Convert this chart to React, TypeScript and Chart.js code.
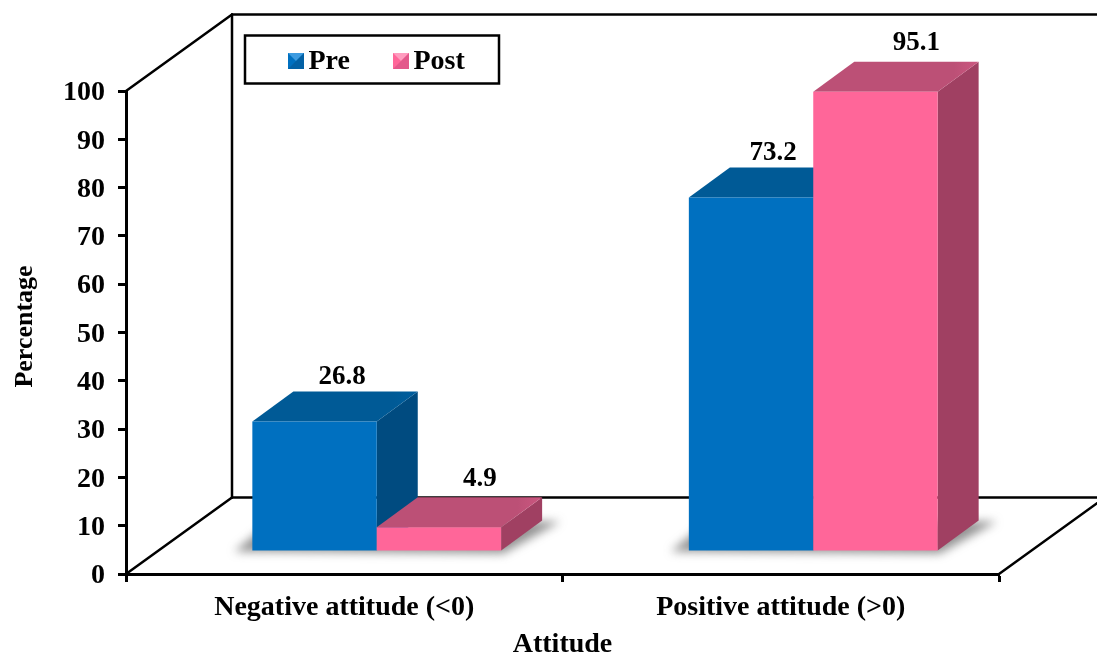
import React, { useEffect, useRef } from "react";
import { Chart, registerables } from "chart.js";

Chart.register(...registerables);

const categories = ["Negative attitude (<0)", "Positive attitude (>0)"];
const preValues = [26.8, 73.2];
const postValues = [4.9, 95.1];
const seriesNames = ["Pre", "Post"];
const yTitle = "Percentage";
const xTitle = "Attitude";

const FONT = '"Liberation Serif", "Times New Roman", serif';
const faces = [
  { front: "#0070C0", top: "#005A96", side: "#004B80", light: "#3D9BE0", dark: "#064F85" },
  { front: "#FF6699", top: "#BC5076", side: "#A04062", light: "#FF9CBF", dark: "#C2467A" },
];
const wall = { dx: 106, dy: -76.5 };
const barShift = { dx: 32.5, dy: -23 };
const barDepth = { dx: 41, dy: -30 };
const labelNudge = [
  [{ x: 27.5, y: -44.5 }, { x: 22, y: -44.5 }],
  [{ x: 41, y: -48.5 }, { x: 41, y: -49 }],
];

const scenePlugin = {
  id: "scene3d",
  beforeDatasetsDraw(chart: any) {
    const { ctx, chartArea: a, width } = chart;
    ctx.save();
    // floor shadows
    ctx.save();
    ctx.filter = "blur(5px)";
    ctx.fillStyle = "rgba(80,80,80,0.62)";
    categories.forEach((_, i) => {
      const l = chart.getDatasetMeta(0).data[i];
      const r = chart.getDatasetMeta(1).data[i];
      const x0 = l.x - l.width / 2 + barShift.dx;
      const x1 = r.x + r.width / 2 + barShift.dx;
      const yb = l.base + barShift.dy;
      ctx.beginPath();
      ctx.moveTo(x0 - 18, yb + 1);
      ctx.lineTo(x1 + 2, yb + 3);
      ctx.lineTo(x1 + barDepth.dx + 18, yb + barDepth.dy + 1);
      ctx.lineTo(x0 + 20, yb + barDepth.dy);
      ctx.closePath();
      ctx.fill();
    });
    ctx.restore();
    // walls
    ctx.strokeStyle = "#000";
    ctx.lineWidth = 2.5;
    ctx.lineCap = "round";
    const bx = a.left + wall.dx;
    const topY = a.top + wall.dy;
    const botY = a.bottom + wall.dy;
    const seg = (x1: number, y1: number, x2: number, y2: number) => {
      ctx.beginPath();
      ctx.moveTo(x1, y1);
      ctx.lineTo(x2, y2);
      ctx.stroke();
    };
    seg(a.left, a.top, bx, topY);
    seg(a.left, a.bottom, bx, botY);
    seg(bx, topY, bx, botY);
    seg(bx, topY, width + 2, topY);
    seg(bx, botY, width + 2, botY);
    seg(a.right, a.bottom, a.right + wall.dx, botY);
    ctx.restore();

    // bars: Pre first, then Post over it, each with its side and top faces
    chart.data.datasets.forEach((_: any, d: number) => {
      const meta = chart.getDatasetMeta(d);
      const f = faces[d];
      ctx.save();
      ctx.translate(barShift.dx, barShift.dy);
      meta.data.forEach((el: any) => {
        const x0 = el.x - el.width / 2;
        const x1 = el.x + el.width / 2;
        const { dx, dy } = barDepth;
        ctx.fillStyle = f.side;
        ctx.beginPath();
        ctx.moveTo(x1, el.y);
        ctx.lineTo(x1 + dx, el.y + dy);
        ctx.lineTo(x1 + dx, el.base + dy);
        ctx.lineTo(x1, el.base);
        ctx.closePath();
        ctx.fill();
        const g = ctx.createLinearGradient(x0, 0, x1 + dx, 0);
        g.addColorStop(0, f.top);
        g.addColorStop(0.85, f.top);
        g.addColorStop(1, d === 0 ? "#005E9E" : "#CC5780");
        ctx.fillStyle = g;
        ctx.beginPath();
        ctx.moveTo(x0, el.y);
        ctx.lineTo(x0 + dx, el.y + dy);
        ctx.lineTo(x1 + dx, el.y + dy);
        ctx.lineTo(x1, el.y);
        ctx.closePath();
        ctx.fill();
      });
      meta.controller.draw();
      ctx.restore();
    });
    return false;
  },
  afterDraw(chart: any) {
    const { ctx } = chart;
    ctx.save();
    ctx.fillStyle = "#000";
    ctx.font = `bold 27px ${FONT}`;
    ctx.textAlign = "center";
    ctx.textBaseline = "middle";
    // value labels
    chart.data.datasets.forEach((ds: any, d: number) => {
      chart.getDatasetMeta(d).data.forEach((el: any, i: number) => {
        const n = labelNudge[d][i];
        ctx.fillText(String(ds.data[i]), el.x + barShift.dx + n.x, el.y + barShift.dy + n.y);
      });
    });
    // y title
    ctx.save();
    ctx.font = `bold 26px ${FONT}`;
    ctx.translate(25, 326.5);
    ctx.rotate(-Math.PI / 2);
    ctx.fillText(yTitle, 0, 0);
    ctx.restore();
    // legend
    ctx.fillStyle = "#fff";
    ctx.strokeStyle = "#000";
    ctx.lineWidth = 2.5;
    ctx.fillRect(245, 35.5, 254, 48);
    ctx.strokeRect(245, 35.5, 254, 48);
    ctx.font = `bold 28px ${FONT}`;
    const swatchX = [288, 393];
    chart.data.datasets.forEach((ds: any, d: number) => {
      const f = faces[d];
      const x = swatchX[d];
      const y = 53;
      const s = 16;
      ctx.fillStyle = f.front;
      ctx.fillRect(x, y, s, s);
      ctx.fillStyle = f.light;
      ctx.beginPath();
      ctx.moveTo(x, y);
      ctx.lineTo(x + s, y);
      ctx.lineTo(x + s / 2, y + s / 2);
      ctx.closePath();
      ctx.fill();
      ctx.fillStyle = f.dark;
      ctx.beginPath();
      ctx.moveTo(x + s, y);
      ctx.lineTo(x + s, y + s);
      ctx.lineTo(x, y + s);
      ctx.lineTo(x + s / 2, y + s / 2);
      ctx.closePath();
      ctx.globalAlpha = 0.45;
      ctx.fill();
      ctx.globalAlpha = 1;
      ctx.fillStyle = "#000";
      ctx.textAlign = "left";
      ctx.fillText(ds.label, x + 20.5, 62);
    });
    ctx.restore();
  },
};

export default function App() {
  const ref = useRef<HTMLCanvasElement>(null);
  useEffect(() => {
    const chart = new Chart(ref.current as HTMLCanvasElement, {
      type: "bar",
      plugins: [scenePlugin],
      data: {
        labels: categories,
        datasets: [
          { label: seriesNames[0], data: preValues, backgroundColor: faces[0].front, borderWidth: 0, clip: false },
          { label: seriesNames[1], data: postValues, backgroundColor: faces[1].front, borderWidth: 0, clip: false },
        ],
      },
      options: {
        responsive: false,
        animation: false,
        layout: { padding: { top: 91, right: 98, bottom: 0, left: 0 } },
        datasets: { bar: { categoryPercentage: 0.57, barPercentage: 1 } },
        plugins: { legend: { display: false }, tooltip: { enabled: false }, title: { display: false } },
        scales: {
          x: {
            afterFit: (s: any) => { s.height = 79; },
            grid: { drawOnChartArea: false, tickLength: 8, tickWidth: 3, tickColor: "#000" },
            border: { color: "#000", width: 3 },
            ticks: { color: "#000", font: { family: FONT, size: 28, weight: "bold" }, padding: 9, maxRotation: 0, autoSkip: false },
            title: { display: true, text: xTitle, color: "#000", font: { family: FONT, size: 28, weight: "bold" }, padding: { top: 0, bottom: -9 } },
          },
          y: {
            min: 0,
            max: 100,
            afterFit: (s: any) => { s.width = 126; },
            grid: { drawOnChartArea: false, tickLength: 8, tickWidth: 3, tickColor: "#000" },
            border: { color: "#000", width: 3 },
            ticks: { stepSize: 10, color: "#000", font: { family: FONT, size: 28, weight: "bold" }, padding: 13, labelOffset: 2 },
          },
        },
      },
    } as any);
    return () => chart.destroy();
  }, []);
  return (
    <div style={{ position: "fixed", left: 0, top: 0, width: 1097, height: 653, background: "#fff" }}>
      <canvas ref={ref} width={1097} height={653} style={{ display: "block" }} />
    </div>
  );
}
